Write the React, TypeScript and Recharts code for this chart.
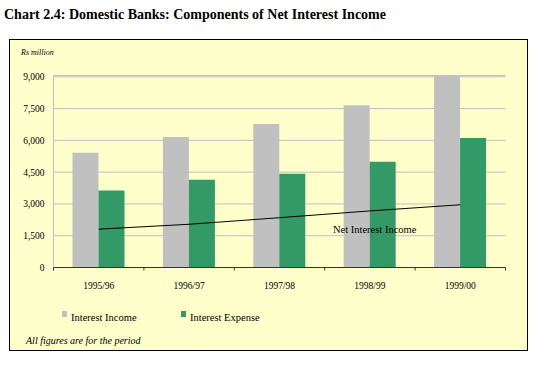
import { ComposedChart, Bar, Line, XAxis, YAxis, CartesianGrid, Legend } from 'recharts'

const years = ['1995/96', '1996/97', '1997/98', '1998/99', '1999/00']
const interestIncome = [5410, 6160, 6770, 7660, 9060]
const interestExpense = [3630, 4140, 4420, 4990, 6110]
const netInterestIncome = [1810, 2040, 2350, 2670, 2960]
const yTicks = [0, 1500, 3000, 4500, 6000, 7500, 9000]
const legendOrder = ['income', 'expense']

const data = years.map((year, i) => ({
  year,
  income: interestIncome[i],
  expense: interestExpense[i],
  net: netInterestIncome[i],
}))

const W = 556
const H = 374
const margin = { top: 75.5, right: 50.5, bottom: 76.5, left: 8.5 }
const yAxisWidth = 45
const plotWidth = W - margin.left - margin.right - yAxisWidth
const band = plotWidth / years.length

const serif = '"Liberation Serif", "Times New Roman", Times, serif'

const XTick = ({ x, y, payload, index }: any) => {
  const last = index === years.length - 1
  return (
    <g>
      <line x1={x - band / 2} x2={x - band / 2} y1={y} y2={y + 3} stroke="#333" />
      {last && <line x1={x + band / 2} x2={x + band / 2} y1={y} y2={y + 3} stroke="#333" />}
      <text x={x} y={y + 21} textAnchor="middle" fontSize={9.5} fontFamily={serif} fill="#000">
        {payload.value}
      </text>
    </g>
  )
}

// only the two bar series, in the order of the reference
const LegendContent = ({ payload }: any) => {
  const items = legendOrder
    .map((key) => (payload || []).find((p: any) => p.dataKey === key))
    .filter(Boolean)
  return (
    <div style={{ display: 'flex', fontFamily: serif, fontSize: 10.5, color: '#000' }}>
      {items.map((item: any, i: number) => (
        <div key={i} style={{ display: 'flex', alignItems: 'flex-start', width: 119 }}>
          <span style={{ width: 5, height: 6, background: item.color, marginTop: 1, marginRight: 4 }} />
          <span style={{ lineHeight: '13px', marginTop: 1 }}>{item.value}</span>
        </div>
      ))}
    </div>
  )
}

export default function App() {
  return (
    <div style={{ position: 'absolute', left: 0, top: 0, width: W, height: H, background: '#fff', fontFamily: serif }}>
      <div style={{ position: 'absolute', left: 4, top: 7, fontSize: 14, lineHeight: '16px', fontWeight: 'bold', whiteSpace: 'nowrap' }}>
        Chart 2.4: Domestic Banks: Components of Net Interest Income
      </div>
      <div
        style={{
          position: 'absolute',
          left: 9,
          top: 39,
          width: 517,
          height: 310,
          border: '1px solid #000',
          background: '#ffffcc',
        }}
      />
      <div style={{ position: 'absolute', left: 21, top: 47, fontSize: 8, lineHeight: '11px', fontStyle: 'italic' }}>
        Rs million
      </div>
      <div style={{ position: 'absolute', left: 0, top: 0 }}>
        <ComposedChart width={W} height={H} data={data} margin={margin} barCategoryGap="21%" barGap={0}>
          <CartesianGrid vertical={false} stroke="#c0c0c0" />
          <XAxis
            dataKey="year"
            height={30}
            axisLine={{ stroke: '#333' }}
            tickLine={false}
            tickSize={0}
            tickMargin={0}
            tick={<XTick />}
            interval={0}
          />
          <YAxis
            width={yAxisWidth}
            domain={[0, 9000]}
            ticks={yTicks}
            axisLine={{ stroke: '#c0c0c0' }}
            tickLine={false}
            tickSize={0}
            tickMargin={9}
            tickFormatter={(v: number) => v.toLocaleString('en-US')}
            tick={{ fontSize: 9.5, fontFamily: serif, fill: '#000' }}
          />
          <Legend
            layout="horizontal"
            verticalAlign="middle"
            align="center"
            content={<LegendContent />}
            wrapperStyle={{ left: 62, top: 310, width: 300, height: 16 }}
          />
          <Bar dataKey="income" name="Interest Income" fill="#c0c0c0" isAnimationActive={false} />
          <Bar dataKey="expense" name="Interest Expense" fill="#339966" isAnimationActive={false} />
          <Line
            dataKey="net"
            name="Net Interest Income"
            type="linear"
            stroke="#000"
            strokeWidth={1}
            dot={false}
            activeDot={false}
            legendType="none"
            isAnimationActive={false}
          />
        </ComposedChart>
      </div>
      <div style={{ position: 'absolute', left: 333, top: 223, fontSize: 10.5, lineHeight: '13px', whiteSpace: 'nowrap' }}>
        Net Interest Income
      </div>
      <div style={{ position: 'absolute', left: 26, top: 334, fontSize: 10, lineHeight: '13px', fontStyle: 'italic', whiteSpace: 'nowrap' }}>
        All figures are for the period
      </div>
    </div>
  )
}
